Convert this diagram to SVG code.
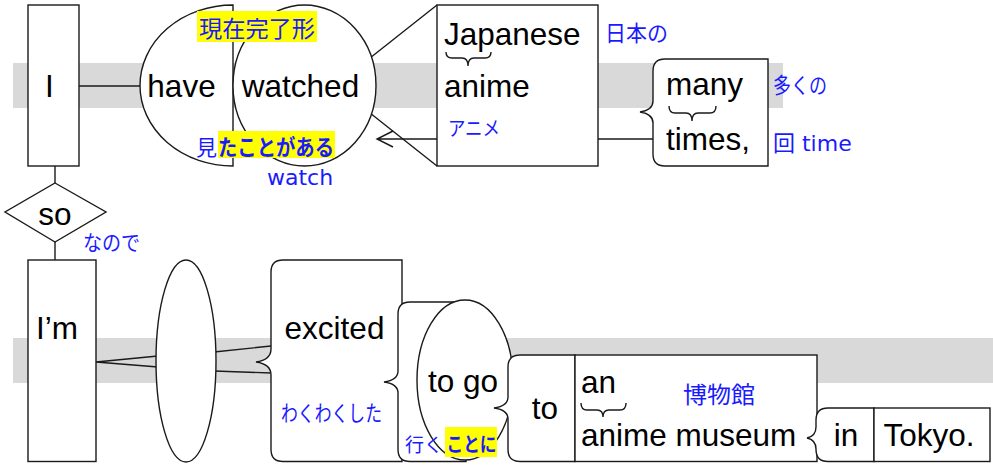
<svg xmlns="http://www.w3.org/2000/svg" width="993" height="465" viewBox="0 0 993 465">
<style>
.s{fill:#fff;stroke:#1a1a1a;stroke-width:1.4}
.ln{fill:none;stroke:#1a1a1a;stroke-width:1.4}
.t{font-family:"Liberation Sans",Arial,sans-serif;font-size:31.5px;fill:#000}
.m{text-anchor:middle}
.j{font-family:"DejaVu Sans","Noto Sans CJK JP",sans-serif;font-size:22px;fill:#1a1aff}
.b{font-weight:bold}
.hl{fill:#ffff00}
.band{fill:#d9d9d9}
</style>
<rect class="band" x="13" y="63" width="770" height="45"/>
<rect class="band" x="13" y="338" width="980" height="45"/>
<g id="connectors" class="ln">
  <line x1="79" y1="86" x2="142" y2="86"/>
  <path d="M370,58 L437,5 M370,113 L437,166"/>
  <path d="M437,139 H377 M393,131 L377,139 L393,147"/>
  <line x1="598" y1="139" x2="653" y2="139"/>
  <line x1="55" y1="166" x2="55" y2="183"/>
  <line x1="55" y1="242" x2="55" y2="260"/>
  <path d="M96,362 L158,356 M96,362 L158,367"/>
  <path d="M214,352 L271,346 M214,371 L271,373"/>
</g>
<g id="node-I">
  <rect class="s" x="28" y="5" width="51" height="161"/>
  <text class="t m" x="49.5" y="97">I</text>
</g>
<g id="node-have">
  <path class="s" d="M233,5 A93,80.5 0 0 0 233,166 Z"/>
  <text class="t m" x="181.5" y="97">have</text>
</g>
<g id="node-watched">
  <ellipse class="s" cx="304.5" cy="85.5" rx="71.5" ry="80.5"/>
  <text class="t m" x="300.5" y="97">watched</text>
  <rect class="hl" x="197" y="11" width="120" height="31"/>
  <text class="j" x="199" y="37" style="font-size:23px" textLength="116" lengthAdjust="spacingAndGlyphs">現在完了形</text>
  <text class="j" x="196" y="155" style="font-size:21px">見</text>
  <rect class="hl" x="218" y="131" width="117" height="27"/>
  <text class="j b" x="218" y="155" textLength="116" lengthAdjust="spacingAndGlyphs">たことがある</text>
  <text class="j" x="267" y="185">watch</text>
</g>
<g id="node-japanese-anime">
  <rect class="s" x="437" y="5" width="161" height="161"/>
  <text class="t" x="444" y="45">Japanese</text>
  <path class="ln" d="M446,52 Q446,58 452,58 L462,58 Q468,58 468,66 Q468,58 474,58 L485,58 Q491,58 491,52"/>
  <text class="t" x="444" y="97">anime</text>
  <text class="j" x="605" y="41" textLength="63" lengthAdjust="spacingAndGlyphs">日本の</text>
  <text class="j" x="448" y="136" style="font-size:20px" textLength="52" lengthAdjust="spacingAndGlyphs">アニメ</text>
</g>
<g id="node-many-times">
  <path class="s" d="M768,59 L665,59 Q653,59 653,71 L653,101 Q653,110 640,112 Q653,114 653,123 L653,154 Q653,166 665,166 L768,166 Z"/>
  <text class="t" x="666" y="95">many</text>
  <path class="ln" d="M669,106 Q669,113 675,113 L686,113 Q692,113 692,121 Q692,113 698,113 L710,113 Q716,113 716,106"/>
  <text class="t" x="666" y="150">times,</text>
  <text class="j" x="773" y="93" textLength="54" lengthAdjust="spacingAndGlyphs">多くの</text>
  <text class="j" x="773" y="151">回 time</text>
</g>
<g id="node-so">
  <polygon class="s" points="55,183 106,212 55,242 5,212"/>
  <text class="t m" x="55" y="225">so</text>
  <text class="j" x="83" y="250" style="font-size:21px" textLength="57" lengthAdjust="spacingAndGlyphs">なので</text>
</g>
<g id="node-Im">
  <rect class="s" x="28" y="260" width="68" height="201.5"/>
  <text class="t" x="36" y="339">I’m</text>
</g>
<g id="node-empty">
  <ellipse class="s" cx="186" cy="361" rx="30" ry="101"/>
</g>
<g id="node-excited">
  <path class="s" d="M283,260 L402,260 L402,461.5 L283,461.5 Q271,461.5 271,449.5 L271,375 Q271,364 256,362 Q271,360 271,349 L271,272 Q271,260 283,260 Z"/>
  <text class="t m" x="334.5" y="339">excited</text>
  <text class="j" x="281" y="421" textLength="101" lengthAdjust="spacingAndGlyphs">わくわくした</text>
</g>
<g id="node-to-go">
  <path class="s" d="M466,302 L410,302 Q398,302 398,314 L398,371 Q398,380 384,382 Q398,384 398,393 L398,449.5 Q398,461.5 410,461.5 L466,461.5 Z"/>
  <ellipse class="s" cx="465" cy="380" rx="48" ry="80"/>
  <text class="t m" x="463" y="392">to go</text>
  <text class="j" x="405" y="452" style="font-size:19px">行く</text>
  <rect class="hl" x="445" y="427" width="52" height="30"/>
  <text class="j b" x="446.5" y="452" style="font-size:20px" textLength="50" lengthAdjust="spacingAndGlyphs">ことに</text>
</g>
<g id="node-to">
  <path class="s" d="M575,355 L520,355 Q508,355 508,367 L508,397 Q508,406 494,408 Q508,410 508,419 L508,449.5 Q508,461.5 520,461.5 L575,461.5 Z"/>
  <text class="t m" x="545" y="419">to</text>
</g>
<g id="node-an-anime-museum">
  <rect class="s" x="575" y="355" width="242" height="106.5"/>
  <text class="t" x="581" y="393">an</text>
  <path class="ln" d="M581,403 Q581,410 587,410 L597,410 Q603,410 603,417 Q603,410 609,410 L620,410 Q626,410 626,403"/>
  <text class="t" x="581" y="446">anime museum</text>
  <text class="j" x="683" y="403" style="font-size:23px" textLength="72" lengthAdjust="spacingAndGlyphs">博物館</text>
</g>
<g id="node-in">
  <path class="s" d="M874,408 L828,408 Q816,408 816,420 L816,427 Q816,436 807,438 Q816,440 816,449 L816,449.5 Q816,461.5 828,461.5 L874,461.5 Z"/>
  <text class="t m" x="846" y="446">in</text>
</g>
<g id="node-tokyo">
  <rect class="s" x="874" y="408" width="116" height="53.5"/>
  <text class="t m" x="929" y="446">Tokyo.</text>
</g>
</svg>
